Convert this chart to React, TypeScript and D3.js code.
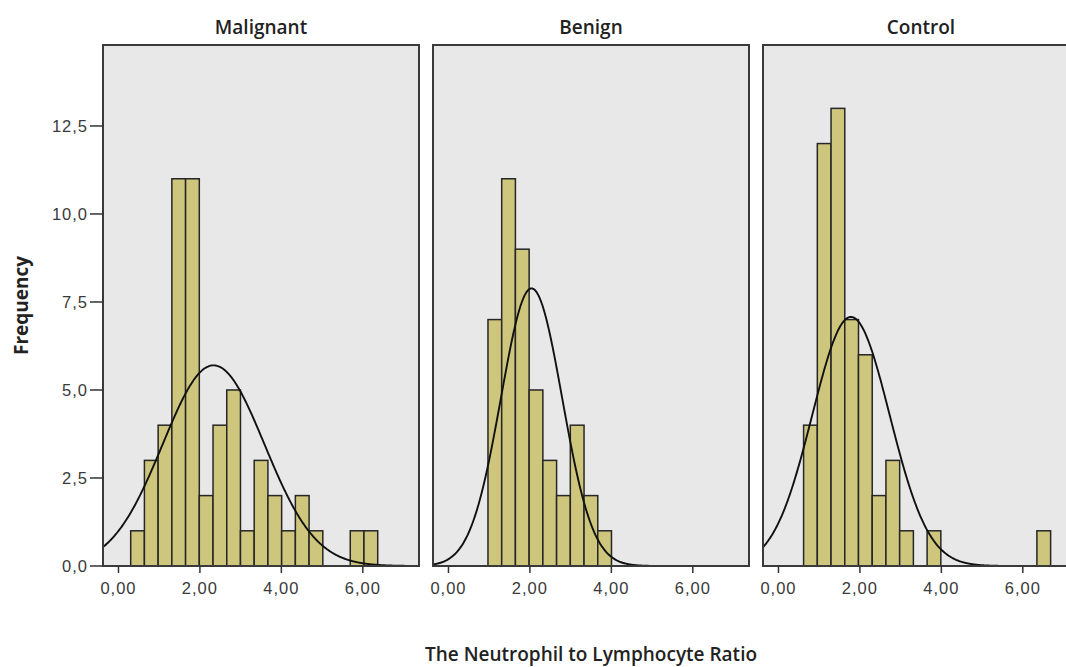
import React from "react";
import * as d3 from "d3";

const groupNames = ["Malignant", "Benign", "Control"];
const binWidth = 0.337;
const malignantStart = 0.3;
const malignantCounts = [1, 3, 4, 11, 11, 2, 4, 5, 1, 3, 2, 1, 2, 1, 0, 0, 1, 1];
const benignStart = 0.97;
const benignCounts = [7, 11, 9, 5, 3, 2, 4, 2, 1];
const controlStart = 0.617;
const controlCounts = [4, 12, 13, 7, 6, 2, 3, 1, 0, 1, 0, 0, 0, 0, 0, 0, 0, 1];
const curveMeans = [2.335, 2.04, 1.78];
const curveSDs = [1.25, 0.75, 0.95];
const xTicks = [0, 2, 4, 6];
const yTicks = [0, 2.5, 5, 7.5, 10, 12.5];
const xLabel = "The Neutrophil to Lymphocyte Ratio";
const yLabel = "Frequency";

const starts = [malignantStart, benignStart, controlStart];
const countsList = [malignantCounts, benignCounts, controlCounts];

const W = 1066;
const H = 667;
const panelLefts = [103, 433, 763];
const panelW = 316;
const top = 45;
const bottom = 566;
const xDomain: [number, number] = [-0.38, 7.38];

const y = d3.scaleLinear().domain([0, 14.8]).range([bottom, top]);
const fmtY = (v: number) => d3.format(".1f")(v).replace(".", ",");
const fmtX = (v: number) => d3.format(".2f")(v).replace(".", ",");

const titleFont = "'Open Sans', 'Noto Sans', sans-serif";
const tickFont = "'Liberation Sans', Arial, sans-serif";

export default function App() {
  return (
    <svg
      width={W}
      height={H}
      style={{ position: "absolute", left: 0, top: 0, background: "#fff" }}
    >
      <defs>
        {panelLefts.map((l, i) => (
          <clipPath id={`clip${i}`} key={i}>
            <rect x={l} y={top} width={panelW} height={bottom - top} />
          </clipPath>
        ))}
      </defs>
      {groupNames.map((name, i) => {
        const l = panelLefts[i];
        const x = d3.scaleLinear().domain(xDomain).range([l, l + panelW]);
        const counts = countsList[i];
        const n = d3.sum(counts);
        const mu = curveMeans[i];
        const sd = curveSDs[i];
        const pts = d3.range(xDomain[0], xDomain[1] + 0.01, 0.02).map((v) => [
          v,
          (n * binWidth * Math.exp(-((v - mu) ** 2) / (2 * sd * sd))) /
            (sd * Math.sqrt(2 * Math.PI)),
        ]);
        const line = d3
          .line<number[]>()
          .x((d) => x(d[0]))
          .y((d) => y(d[1]))
          .curve(d3.curveBasis);
        return (
          <g key={name}>
            <rect
              x={l}
              y={top}
              width={panelW}
              height={bottom - top}
              fill="#e8e8e8"
            />
            <g clipPath={`url(#clip${i})`}>
              {counts.map((c, j) =>
                c > 0 ? (
                  <rect
                    key={j}
                    x={x(starts[i] + j * binWidth)}
                    y={y(c)}
                    width={x(starts[i] + (j + 1) * binWidth) - x(starts[i] + j * binWidth)}
                    height={y(0) - y(c)}
                    fill="#cec67c"
                    stroke="#262626"
                    strokeWidth={1.5}
                  />
                ) : null
              )}
              <path
                d={line(pts) || ""}
                fill="none"
                stroke="#111"
                strokeWidth={1.9}
              />
            </g>
            <rect
              x={l}
              y={top}
              width={panelW}
              height={bottom - top}
              fill="none"
              stroke="#3a3a3a"
              strokeWidth={2}
            />
            <text
              x={l + panelW / 2}
              y={34}
              textAnchor="middle"
              fontFamily={titleFont}
              fontWeight={600}
              fontSize={19}
              fill="#222"
            >
              {name}
            </text>
            {xTicks.map((t) => (
              <g key={t}>
                <line
                  x1={x(t)}
                  x2={x(t)}
                  y1={bottom}
                  y2={bottom + 7}
                  stroke="#333"
                  strokeWidth={1.5}
                />
                <text
                  x={x(t)}
                  y={594}
                  textAnchor="middle"
                  fontFamily={tickFont}
                  fontSize={16.5}
                  letterSpacing={1}
                  fill="#3a3a3a"
                >
                  {fmtX(t)}
                </text>
              </g>
            ))}
          </g>
        );
      })}
      {yTicks.map((t) => (
        <g key={t}>
          <line
            x1={90}
            x2={103}
            y1={y(t)}
            y2={y(t)}
            stroke="#333"
            strokeWidth={1.5}
          />
          <text
            x={88}
            y={y(t)}
            dy="0.36em"
            textAnchor="end"
            fontFamily={tickFont}
            fontSize={16.5}
            letterSpacing={1}
            fill="#3a3a3a"
          >
            {fmtY(t)}
          </text>
        </g>
      ))}
      <text
        transform={`translate(28,${(top + bottom) / 2}) rotate(-90)`}
        textAnchor="middle"
        fontFamily={titleFont}
        fontWeight={700}
        fontSize={19}
        fill="#222"
      >
        {yLabel}
      </text>
      <text
        x={591}
        y={661}
        textAnchor="middle"
        fontFamily={titleFont}
        fontWeight={600}
        fontSize={19}
        fill="#222"
      >
        {xLabel}
      </text>
    </svg>
  );
}
